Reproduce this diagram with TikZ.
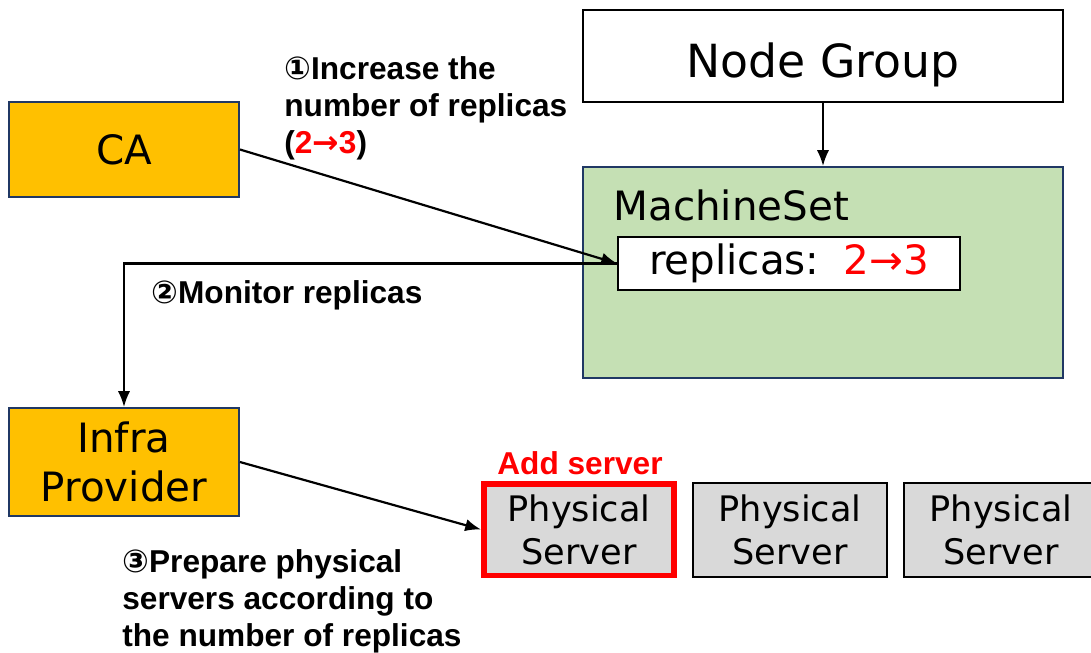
\documentclass[tikz,border=0pt]{standalone}
\usepackage{fontspec}
\setmainfont{DejaVu Sans}
\newfontfamily\lblfont{Liberation Sans}
\newfontfamily\circfont{DejaVu Sans}
\usetikzlibrary{arrows.meta}

\definecolor{caorange}{HTML}{FFC000}
\definecolor{msgreen}{HTML}{C5E0B4}
\definecolor{navyline}{HTML}{203864}
\definecolor{srvgray}{HTML}{D9D9D9}

\tikzset{
  whitebox/.style={draw=black, fill=white, line width=1.1pt, inner sep=0pt, align=center},
  orangebox/.style={draw=navyline, fill=caorange, line width=1.1pt, inner sep=0pt, align=center,
    minimum width=4.6cm, font=\fontsize{23}{28}\selectfont},
  serverbox/.style={draw=black, fill=srvgray, line width=1.1pt, inner sep=0pt, align=center,
    minimum width=3.88cm, minimum height=1.88cm, font=\fontsize{20}{24.5}\selectfont},
  steplabel/.style={font=\lblfont\bfseries\fontsize{18}{21.2}\selectfont, align=left, inner sep=0pt},
  link/.style={->, line width=1.25pt}
}

\begin{document}
\begin{tikzpicture}[x=0.02cm, y=-0.02cm, >={Latex[length=9pt,width=7pt]}]
    \useasboundingbox (0,0) rectangle (1091,652);

    % upper part
    \node[whitebox, minimum width=9.6cm, minimum height=1.84cm,
          font=\fontsize{26}{30}\selectfont, text height=24pt, text depth=0pt] (ng) at (823,56) {Node Group};
    \node[draw=navyline, fill=msgreen, line width=1.1pt,
          minimum width=9.6cm, minimum height=4.22cm, inner sep=0pt] (ms) at (823,272.5) {};
    \node[anchor=west, inner sep=0pt, font=\fontsize{23}{28}\selectfont] (mstitle) at (613,205) {MachineSet};
    \node[whitebox, minimum width=6.84cm, minimum height=1.06cm,
          font=\fontsize{23}{28}\selectfont] (rep) at (789,263.5) {replicas:\hspace{0.6em}\textcolor{red}{2→3}};

    \node[orangebox, minimum height=1.9cm] (ca) at (124,149.5) {CA};
    \node[orangebox, minimum height=2.16cm] (infra) at (124,462) {Infra\\Provider};

    % servers
    \node[serverbox, draw=red, line width=3.4pt, minimum width=3.8cm, minimum height=1.84cm] (ps1) at (579,529.5) {Physical\\Server};
    \node[serverbox] (ps2) at (790,530) {Physical\\Server};
    \node[serverbox] (ps3) at (1001,530) {Physical\\Server};
    \node[steplabel, text=red] (add) at (580,463) {Add server};

    % connectors
    \draw[link] (ng) -- (ms);
    \draw[link] (ca.east) -- (rep.west);
    \draw[link] (rep.west) -| (infra.north);
    \draw[link] (infra.east) -- (ps1.west);

    % step labels
    \node[steplabel, anchor=north west] (step1) at (284,56)
        {{\circfont\bfseries ①}Increase the\\number of replicas\\(\textcolor{red}{2{\circfont\bfseries →}3})};
    \node[steplabel, anchor=west] (step2) at (151,295) {{\circfont\bfseries ②}Monitor replicas};
    \node[steplabel, anchor=north west] (step3) at (122,549)
        {{\circfont\bfseries ③}Prepare physical\\servers according to\\the number of replicas};
\end{tikzpicture}
\end{document}
